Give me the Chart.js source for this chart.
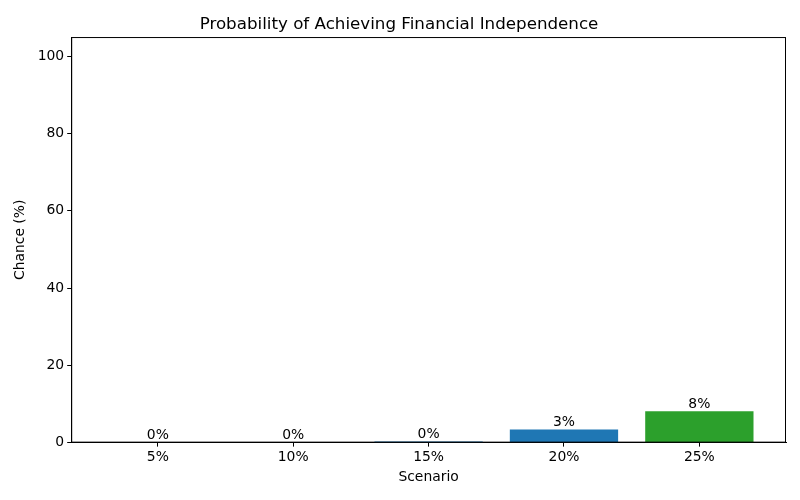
<!DOCTYPE html>
<html><head><meta charset="utf-8">
<script src="https://cdn.jsdelivr.net/npm/chart.js@4"></script>
<style>html,body{margin:0;padding:0;background:#fff}#wrap{width:800px;height:500px}</style>
</head><body><div id="wrap"><canvas id="c" width="800" height="500"></canvas></div>
<script>
const categories = ["5%", "10%", "15%", "20%", "25%"];
const chances = [0, 0, 0.3, 3.4, 8.1];
const barColors = ["#d62728", "#ff7f0e", "#1f77b4", "#1f77b4", "#2ca02c"];
const yTicks = [0, 20, 40, 60, 80, 100];

const FONT = "'DejaVu Sans', sans-serif";

const framePlugin = {
  id: 'frame',
  afterDatasetsDraw(chart) {
    const {ctx, chartArea: a} = chart;
    ctx.save();
    ctx.strokeStyle = '#000';
    ctx.lineWidth = 1;
    ctx.strokeRect(a.left + 0.5, a.top + 0.5, a.right - a.left - 1, a.bottom - a.top - 1);
    ctx.restore();
  }
};
const labelPlugin = {
  id: 'barLabels',
  afterDatasetsDraw(chart) {
    const {ctx} = chart;
    const meta = chart.getDatasetMeta(0);
    ctx.save();
    ctx.fillStyle = '#000';
    ctx.font = '13.9px ' + FONT;
    ctx.textAlign = 'center';
    ctx.textBaseline = 'bottom';
    meta.data.forEach((bar, i) => {
      ctx.fillText(Math.round(chances[i]) + '%', bar.x, bar.y);
    });
    ctx.restore();
  }
};

new Chart(document.getElementById('c'), {
  type: 'bar',
  data: {
    datasets: [{
      data: chances.map((v, i) => ({x: i, y: v})),
      backgroundColor: barColors,
      borderWidth: 0,
      barPercentage: 0.8,
      categoryPercentage: 1.0
    }]
  },
  options: {
    responsive: false,
    animation: false,
    devicePixelRatio: 1,
    layout: {padding: {left: 12, right: 14, top: 7, bottom: 14}},
    plugins: {
      legend: {display: false},
      tooltip: {enabled: false},
      title: {
        display: true,
        text: 'Probability of Achieving Financial Independence',
        color: '#000',
        font: {family: FONT, size: 16.7, weight: 'normal'},
        padding: {top: 8, bottom: 2}
      }
    },
    scales: {
      x: {
        type: 'linear',
        min: -0.64,
        max: 4.64,
        offset: false,
        afterBuildTicks(scale) { scale.ticks = categories.map((c, i) => ({value: i})); },
        ticks: {
          color: '#000',
          font: {family: FONT, size: 13.9},
          padding: 2,
          callback: (v) => categories[v]
        },
        grid: {display: true, offset: false, drawOnChartArea: false, drawTicks: true, tickLength: 4, color: '#000'},
        border: {display: true, color: '#000'},
        title: {display: true, text: 'Scenario', color: '#000', font: {family: FONT, size: 13.9}, padding: {top: 2, bottom: 0}}
      },
      y: {
        min: 0,
        max: 105,
        afterBuildTicks(scale) { scale.ticks = yTicks.map(v => ({value: v})); },
        ticks: {color: '#000', font: {family: FONT, size: 13.9}, padding: 3},
        grid: {display: true, offset: false, drawOnChartArea: false, drawTicks: true, tickLength: 4, color: '#000'},
        border: {display: true, color: '#000'},
        title: {display: true, text: 'Chance (%)', color: '#000', font: {family: FONT, size: 13.9}, padding: {top: 0, bottom: 6}}
      }
    }
  },
  plugins: [framePlugin, labelPlugin]
});
</script></body></html>
